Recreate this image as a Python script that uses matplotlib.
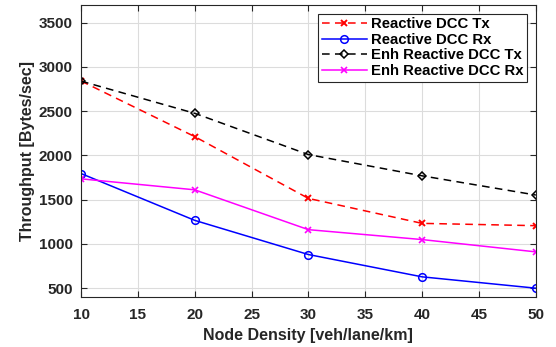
import matplotlib.pyplot as plt

# node density [veh/lane/km]
x = [10, 20, 30, 40, 50]

# throughput [Bytes/sec]
reactive_tx = [2840, 2212, 1514, 1232, 1206]
reactive_rx = [1795, 1266, 880, 628, 500]
enh_tx      = [2839, 2475, 2009, 1769, 1552]
enh_rx      = [1735, 1611, 1161, 1049, 910]

plt.rcParams['font.family'] = ['Liberation Sans', 'DejaVu Sans']
plt.rcParams['font.weight'] = 'bold'
txt = '#262626'

fig = plt.figure(figsize=(5.56, 3.47), dpi=100)
ax = fig.add_axes([0.1457, 0.144, 0.818, 0.842])

dash = (0, (5, 3.5))
ax.plot(x, reactive_tx, color='red', linestyle=dash, marker='x',
        markersize=4.5, markeredgewidth=1.4, linewidth=1.1, label='Reactive DCC Tx')
ax.plot(x, reactive_rx, color='blue', marker='o', markerfacecolor='none',
        markersize=5.5, markeredgewidth=1.1, linewidth=1.1, label='Reactive DCC Rx')
ax.plot(x, enh_tx, color='black', linestyle=dash, marker='D', markerfacecolor='none',
        markersize=4.5, markeredgewidth=1.1, linewidth=1.1, label='Enh Reactive DCC Tx')
ax.plot(x, enh_rx, color='magenta', marker='x', markersize=4.5, markeredgewidth=1.2,
        linewidth=1.1, label='Enh Reactive DCC Rx')

ax.set_xlim(10, 50)
ax.set_ylim(400, 3700)
ax.set_xticks(range(10, 51, 5))
ax.set_yticks(range(500, 3501, 500))
ax.grid(True, color='#dcdcdc', linewidth=0.8)
ax.tick_params(direction='in', top=True, right=True, labelsize=11, colors=txt,
               length=4, width=0.8, pad=6)
ax.tick_params(axis='x', pad=8)
for s in ax.spines.values():
    s.set_color(txt)
    s.set_linewidth(0.8)

ax.set_xlabel('Node Density [veh/lane/km]', fontsize=11.5, fontweight='bold', color=txt, labelpad=4)
ax.set_ylabel('Throughput [Bytes/sec]', fontsize=11.5, fontweight='bold', color=txt, labelpad=3)

leg = ax.legend(loc='upper right', prop={'weight': 'bold', 'size': 10.7},
                fancybox=False, framealpha=1, edgecolor=txt, borderpad=0.25,
                labelspacing=0.1, handlelength=3.0, handletextpad=0.25,
                borderaxespad=0, bbox_to_anchor=(0.98, 0.97))
leg.get_frame().set_linewidth(0.8)

fig.savefig('out.png', dpi=100)
